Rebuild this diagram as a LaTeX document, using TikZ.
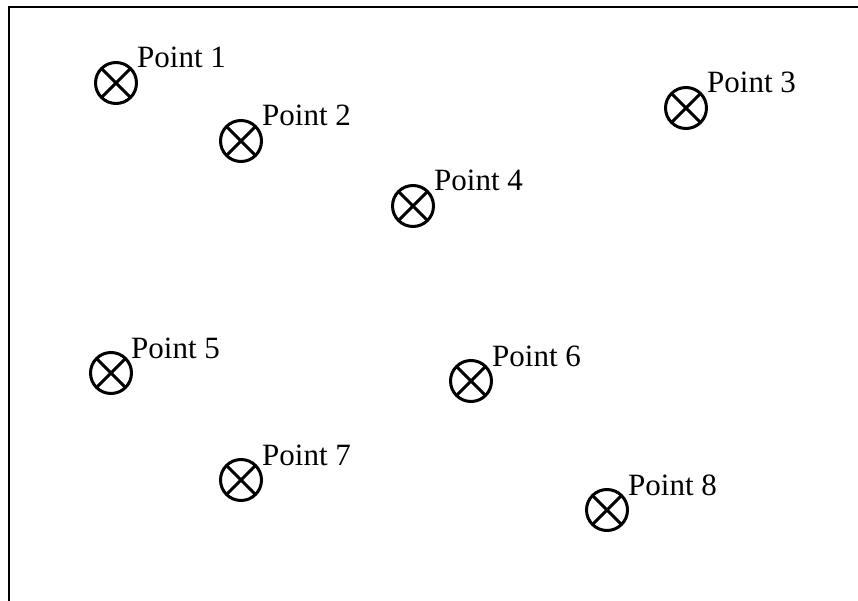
\documentclass[tikz,border=0pt]{standalone}
\usepackage{fontspec}
\setmainfont{Liberation Serif}

\begin{document}
\begin{tikzpicture}[x = 1pt, y = -1pt, cruz/.style = {circle,draw,line width=3pt,minimum size=41pt,inner sep=0pt,outer sep=0pt,path picture={\draw[line width=3pt] (path picture bounding box.north west) -- (path picture bounding box.south east) (path picture bounding box.north east) -- (path picture bounding box.south west);}},etiqueta/.style = {anchor=base west,inner sep=0pt,font=\fontsize{31}{36}\selectfont},]
		\useasboundingbox (0,0) rectangle (858,601);

		% marco
		\coordinate (esquina) at (9,7);
		\coordinate (abajo) at (9,602);
		\coordinate (derecha) at (859,7);
		\draw[line width=2pt] (abajo) -- (esquina) -- (derecha);

		\node[cruz] (p1) at (116,83) {};
		\node[cruz] (p2) at (241,141) {};
		\node[cruz] (p3) at (686,108) {};
		\node[cruz] (p4) at (413,206) {};
		\node[cruz] (p5) at (111,373) {};
		\node[cruz] (p6) at (471,381) {};
		\node[cruz] (p7) at (241,480) {};
		\node[cruz] (p8) at (607,510) {};

		\node[etiqueta] (e1) at (137,68) {Point 1};
		\node[etiqueta] (e2) at (262,126) {Point 2};
		\node[etiqueta] (e3) at (707,93) {Point 3};
		\node[etiqueta] (e4) at (434,191) {Point 4};
		\node[etiqueta] (e5) at (131,358) {Point 5};
		\node[etiqueta] (e6) at (492,366) {Point 6};
		\node[etiqueta] (e7) at (262,465) {Point 7};
		\node[etiqueta] (e8) at (628,495) {Point 8};
	\end{tikzpicture}
\end{document}
